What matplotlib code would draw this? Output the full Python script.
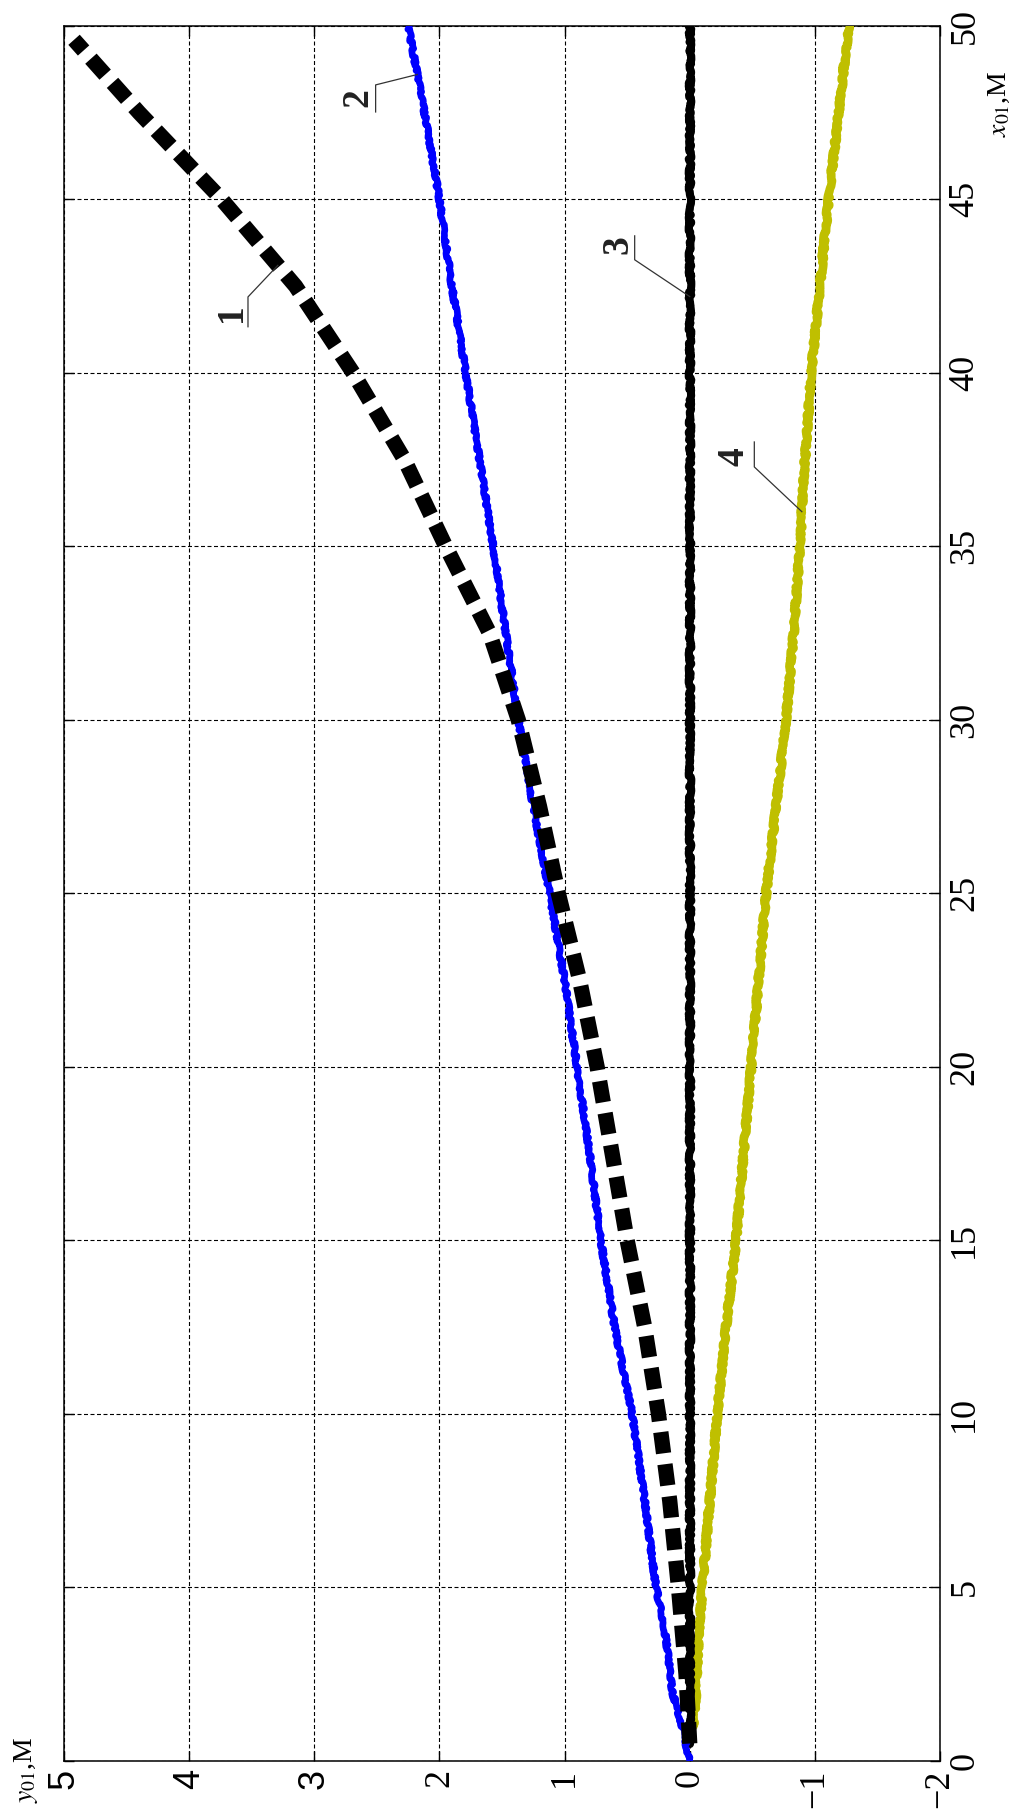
import numpy as np
import matplotlib
matplotlib.use('Agg')
import matplotlib.pyplot as plt

plt.rcParams['font.family'] = ['Liberation Serif', 'DejaVu Serif']
plt.rcParams['mathtext.fontset'] = 'stix'

# x01 runs up the page, y01 runs across it (right to left)
x1 = [0.5, 2.5, 5, 7.5, 10, 12.5, 15, 17.5, 20, 22.5, 25, 27.5, 30, 32.5, 35, 37.5, 40, 42.5, 45, 47.5, 49.6]
y1 = [0.0, 0.03, 0.09, 0.16, 0.25, 0.36, 0.5, 0.62, 0.74, 0.88, 1.05, 1.2, 1.37, 1.6, 1.95, 2.28, 2.69, 3.15, 3.74, 4.4, 4.92]

x2 = [0, 1, 2, 3, 4, 5, 7.5, 10, 12.5, 15, 17.5, 20, 22.5, 25, 27.5, 30, 32.5, 35, 37.5, 40, 42.5, 45, 47.5, 50]
y2 = [0.0, 0.06, 0.14, 0.17, 0.21, 0.27, 0.36, 0.46, 0.6, 0.71, 0.8, 0.9, 1.0, 1.12, 1.25, 1.37, 1.47, 1.57, 1.68,
      1.79, 1.9, 2.0, 2.12, 2.25]

x3 = [0.5, 50]
y3 = [0.0, 0.0]

x4 = [1, 2, 3.5, 5, 7.5, 10, 12.5, 15, 17.5, 20, 22.5, 25, 27.5, 30, 32.5, 35, 37.5, 40, 42.5, 45, 47.5, 50]
y4 = [-0.03, -0.05, -0.07, -0.1, -0.16, -0.22, -0.29, -0.37, -0.43, -0.49, -0.55, -0.61, -0.69, -0.77, -0.83,
      -0.88, -0.92, -0.97, -1.04, -1.11, -1.19, -1.27]

x01_ticks = [0, 5, 10, 15, 20, 25, 30, 35, 40, 45, 50]
x01_labels = ['0', '5', '10', '15', '20', '25', '30', '35', '40', '45', '50']
y01_ticks = [5, 4, 3, 2, 1, 0, -1, -2]
y01_labels = ['5', '4', '3', '2', '1', '0', '\u22121', '\u22122']
sans_labels = ['5', '4', '3', '45', '50']

# curve number labels: anchor on the curve (x01), elbow and text position (y01, x01)
curve_ids = ['1', '2', '3', '4']
anchor_x01 = [43.1, 48.6, 42.2, 36.0]
elbow = [(3.53, 42.19), (2.51, 48.30), (0.44, 43.26), (-0.516, 37.29)]
under_end = [(3.53, 41.33), (2.51, 47.52), (0.44, 43.95), (-0.516, 38.01)]
text_pos = [(3.66, 41.73), (2.65, 47.93), (0.57, 43.69), (-0.35, 37.58)]

fig = plt.figure(figsize=(10.18, 18.12), dpi=100)
ax = fig.add_axes([0.0629, 0.0282, 0.8605, 0.9575])

l4, = ax.plot(y4, x4, color='#bfbf00', lw=6.2, solid_capstyle='round', zorder=3)
l3, = ax.plot(y3, x3, color='k', lw=5.8, solid_capstyle='round', zorder=4)
l2, = ax.plot(y2, x2, color='#0000ff', lw=4.8, solid_capstyle='round', zorder=5)
l1, = ax.plot(y1, x1, color='k', lw=11, linestyle=(0, (1.4, 0.72)), zorder=6)
for ln in (l2, l3, l4):
    ln.set_sketch_params(scale=1.3, length=16, randomness=16)

curves = [(x1, y1), (x2, y2), (x3, y3), (x4, y4)]
for i, cid in enumerate(curve_ids):
    cx, cy = curves[i]
    ay = np.interp(anchor_x01[i], cx, cy)
    ax.plot([ay, elbow[i][0], under_end[i][0]], [anchor_x01[i], elbow[i][1], under_end[i][1]],
            color='#333333', lw=0.9, zorder=7)
    ax.text(text_pos[i][0], text_pos[i][1], cid, rotation=90, ha='center', va='center',
            fontsize=27, fontweight='bold', color='#222222', zorder=8)

ax.set_xlim(5, -2)
ax.set_ylim(0, 50)

ax.set_xticks(y01_ticks, y01_labels, rotation=90, fontsize=26)
ax.set_yticks(x01_ticks, x01_labels, rotation=90, fontsize=26, va='center')
for lab in ax.get_xticklabels() + ax.get_yticklabels():
    if lab.get_text() in sans_labels:
        lab.set_family('Liberation Sans')

ax.yaxis.tick_right()
ax.tick_params(direction='in', length=7, width=1.0, top=True, bottom=True, left=True, right=True,
               labelleft=False, labelright=True)
ax.tick_params(axis='x', pad=6)
ax.tick_params(axis='y', pad=6)

ax.grid(True, color='k', linestyle=(0, (3.6, 2.25)), linewidth=0.8)
ax.set_axisbelow(True)
for sp in ax.spines.values():
    sp.set_linewidth(1.1)

fig.text(0.982, 0.943, '$x_{01}$,М', rotation=90, ha='center', va='center', fontsize=20)
fig.text(0.0255, 0.0232, '$y_{01}$,М', rotation=90, ha='center', va='center', fontsize=20)

fig.savefig('out.png', dpi=100)
